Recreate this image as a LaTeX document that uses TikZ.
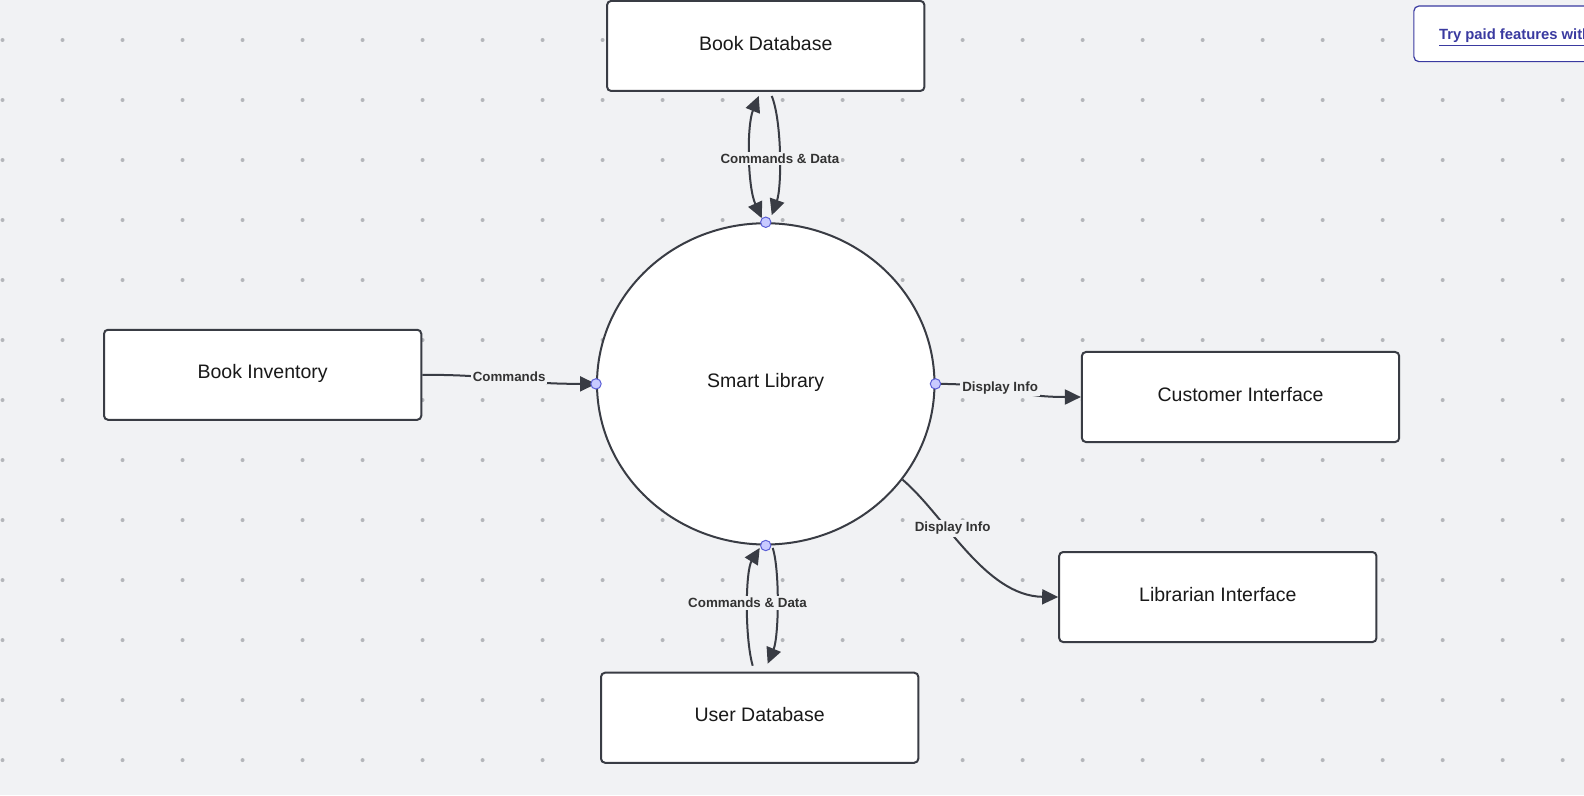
\documentclass[tikz,border=0pt]{standalone}
\usepackage{fontspec}
\setmainfont{Liberation Sans}
\usetikzlibrary{arrows.meta,shapes.geometric}
\definecolor{canvas}{HTML}{F1F2F4}
\definecolor{gridDot}{HTML}{B4B6BA}
\definecolor{ink}{HTML}{393C44}
\definecolor{portFill}{HTML}{C8CAFF}
\definecolor{portLine}{HTML}{5B5FD6}
\definecolor{lucid}{HTML}{3A3AA0}

\begin{document}
\begin{tikzpicture}[x=0.505pt,y=-0.505pt,>={Triangle[length=8pt,width=7.5pt]},
        entity/.style={draw=ink,fill=white,line width=1pt,rounded corners=2pt,minimum width=158.6pt,minimum height=45pt,inner sep=0pt,text depth=3pt,text=black!90,font=\fontsize{9.75}{12}\selectfont},
        process/.style={ellipse,draw=ink,fill=white,line width=1pt,minimum width=168.7pt,minimum height=160.6pt,inner sep=0pt,text depth=3pt,text=black!90,font=\fontsize{9.75}{12}\selectfont},
        port/.style={circle,draw=portLine,fill=portFill,line width=0.5pt,minimum size=5.2pt,inner sep=0pt},
        flow/.style={draw=ink,line width=1pt},
        flowtext/.style={fill=canvas,text=black!80,inner sep=1pt,font=\fontsize{6.67}{8}\selectfont\bfseries},
        trial/.style={draw=lucid,fill=white,line width=0.6pt,rounded corners=2.5pt,anchor=west,minimum height=27.8pt,inner xsep=12.6pt,text height=5.5pt,text depth=0pt,text=lucid,font=\fontsize{7.4}{9}\selectfont\bfseries}]
        \fill[canvas] (0,0) rectangle (1568,787);
        \useasboundingbox (0,0) rectangle (1568,787);
        \foreach \i in {0,...,26}
            \foreach \j in {0,...,12}
                \fill[gridDot] ({2.5+59.4*\i},{39.6+59.4*\j}) circle (1pt);

        \node[entity] (BookDB) at (758,45.5) {Book Database};
        \node[entity] (Inventory) at (260,371) {Book Inventory};
        \node[entity] (Customer) at (1228,393) {Customer Interface};
        \node[entity] (Librarian) at (1205.5,591) {Librarian Interface};
        \node[entity] (UserDB) at (752,710.5) {User Database};
        \node[process] (Library) at (758,380) {Smart Library};

        \draw[flow,<->] ([xshift=-3.5pt,yshift=-2pt]BookDB.south) .. controls (739,125) and (740,185) .. ([xshift=-2pt,yshift=2pt]Library.north);
        \draw[flow,->] ([xshift=3pt,yshift=-2pt]BookDB.south) .. controls (774,120) and (774,185) .. ([xshift=3pt,yshift=3.5pt]Library.north);
        \draw[flow,->] ([xshift=-3.5pt,yshift=3pt]UserDB.north) .. controls (737,630) and (738,565) .. ([xshift=-3pt,yshift=-1.2pt]Library.south);
        \draw[flow,->] ([xshift=3.5pt,yshift=-1.2pt]Library.south) .. controls (772,565) and (771,630) .. ([xshift=4pt,yshift=4pt]UserDB.north);
        \draw[flow,->] (Inventory.east) .. controls (503,371) and (503,380) .. (Library.west);
        \draw[flow,->] (Library.east) .. controls (1000,380) and (1000,393) .. (Customer.west);
        \draw[flow,->] (Library.-35) .. controls (935,510) and (975,590) .. (Librarian.west);

        \node[port] (PortN) at (Library.north) {};
        \node[port] (PortW) at (Library.west) {};
        \node[port] (PortE) at (Library.east) {};
        \node[port] (PortS) at (Library.south) {};

        \node[flowtext] (TopText) at (772,157) {Commands \& Data};
        \node[flowtext] (BottomText) at (740,597) {Commands \& Data};
        \node[flowtext] (CmdText) at (504,373) {Commands};
        \node[flowtext] (CustText) at (990,384) {Display Info};
        \node[flowtext] (LibText) at (943,523) {Display Info};

        \node[trial] (Trial) at (1399,33.5) {\underline{Try paid features with}};
    \end{tikzpicture}
\end{document}
